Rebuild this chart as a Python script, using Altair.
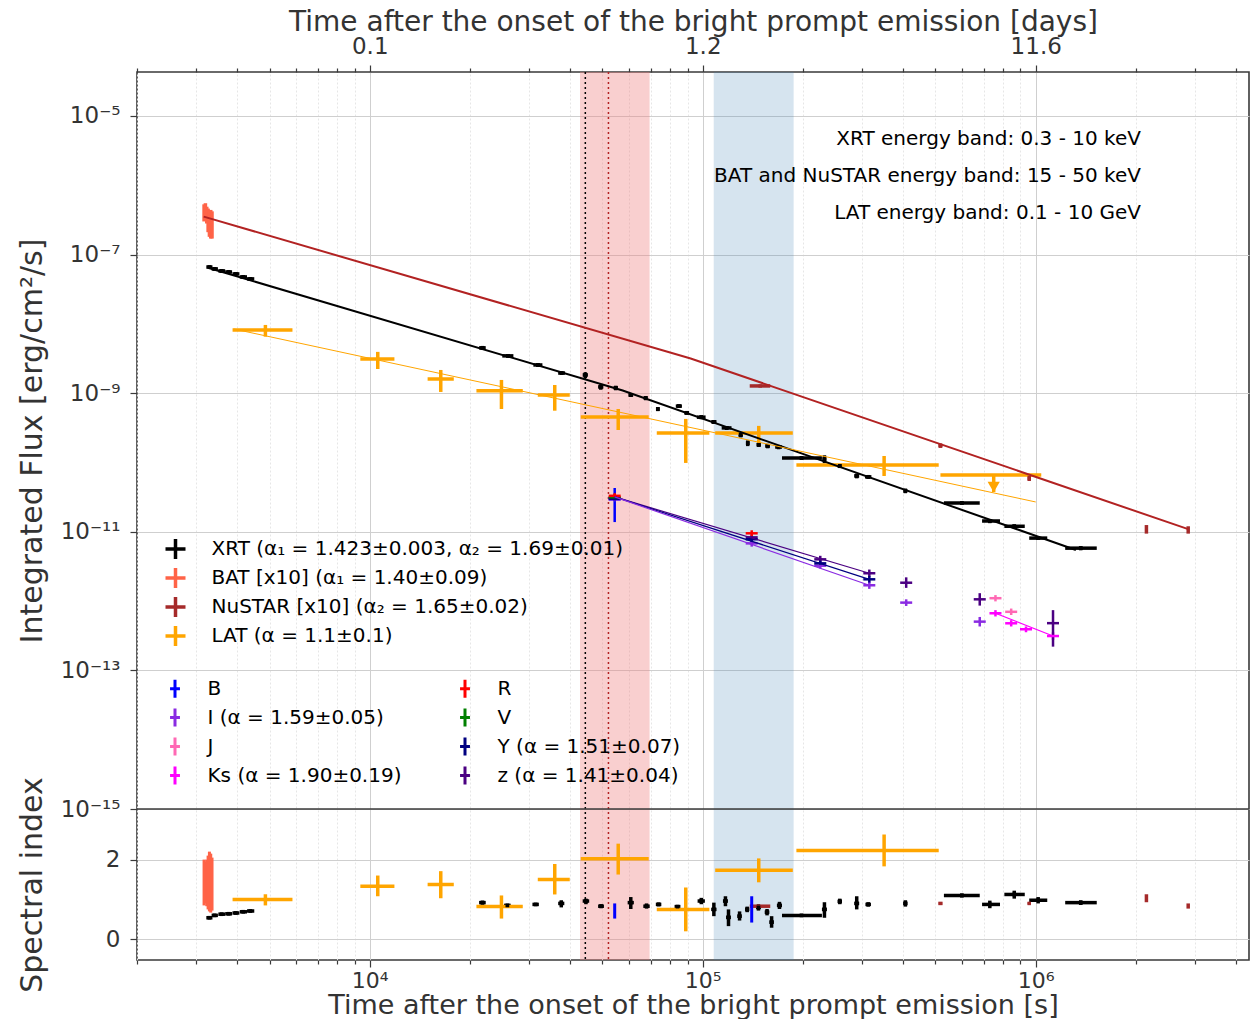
import altair as alt
import pandas as pd

# ---------------- XRT flux (0.3-10 keV) ----------------
xrt_t   = [3300, 3420, 3590, 3770, 3960, 4170, 4380, 21800, 26000, 32000, 37700, 44400, 49400, 54800, 60800, 67400, 73300,
           84800, 89500, 99000, 108000, 118000, 130000, 136500, 147300, 156700, 169000,
           198000, 232000, 258000, 290000, 314000, 406000, 600000, 728000, 862000, 1017000, 1365000]
xrt_tlo = [3230, 3350, 3510, 3680, 3870, 4070, 4280, 21300, 25000, 31000, 36800, 43600, 48500, 54000, 59800, 66500, 72500,
           83000, 88000, 96000, 106000, 114000, 128000, 135000, 145000, 154000, 165000,
           173000, 229000, 254000, 285000, 307000, 401000, 530000, 690000, 805000, 956000, 1226000]
xrt_thi = [3370, 3500, 3680, 3860, 4060, 4280, 4500, 22300, 27000, 33000, 38600, 45200, 50300, 55600, 61800, 68300, 74100,
           86600, 91000, 102000, 110000, 122000, 132000, 138000, 149500, 159000, 173000,
           228000, 235000, 262000, 295000, 321000, 411000, 679000, 781000, 927000, 1083000, 1525000]
xrt_F   = [6.6e-8, 6.2e-8, 5.8e-8, 5.6e-8, 5.25e-8, 4.75e-8, 4.45e-8, 4.5e-9, 3.45e-9, 2.55e-9, 1.95e-9, 1.83e-9, 1.23e-9, 1.19e-9, 9.4e-10, 8.5e-10, 5.9e-10,
           6.5e-10, 5.2e-10, 4.5e-10, 3.85e-10, 3.15e-10, 2.5e-10, 1.9e-10, 1.8e-10, 1.73e-10, 1.67e-10,
           1.16e-10, 1.12e-10, 8.9e-11, 6.4e-11, 6.2e-11, 3.9e-11, 2.6e-11, 1.43e-11, 1.2e-11, 8.1e-12, 5.8e-12]
xrt_Flo = [6.3e-8, 5.9e-8, 5.5e-8, 5.3e-8, 5.0e-8, 4.5e-8, 4.2e-8, 4.2e-9, 3.25e-9, 2.4e-9, 1.85e-9, 1.65e-9, 1.12e-9, 1.1e-9, 8.8e-10, 7.9e-10, 5.5e-10,
           6.1e-10, 4.9e-10, 4.2e-10, 3.6e-10, 2.95e-10, 2.3e-10, 1.72e-10, 1.68e-10, 1.6e-10, 1.55e-10,
           1.09e-10, 0.98e-10, 8.3e-11, 5.9e-11, 5.8e-11, 3.6e-11, 2.45e-11, 1.33e-11, 1.12e-11, 7.6e-12, 5.4e-12]
xrt_Fhi = [6.9e-8, 6.5e-8, 6.1e-8, 5.9e-8, 5.5e-8, 5.0e-8, 4.7e-8, 4.8e-9, 3.65e-9, 2.7e-9, 2.05e-9, 2.0e-9, 1.34e-9, 1.28e-9, 1.0e-9, 9.1e-10, 6.3e-10,
           6.9e-10, 5.5e-10, 4.8e-10, 4.1e-10, 3.35e-10, 2.7e-10, 2.08e-10, 1.92e-10, 1.86e-10, 1.79e-10,
           1.23e-10, 1.27e-10, 9.5e-11, 6.9e-11, 6.6e-11, 4.2e-11, 2.75e-11, 1.53e-11, 1.28e-11, 8.6e-12, 6.2e-12]

# ---------------- XRT spectral index ----------------
xi_t   = [3300, 3420, 3590, 3770, 3960, 4170, 4380, 21800, 25900, 31500, 37600, 44600, 49500, 60800, 67800, 73700, 84000,
          99000, 108000, 117000, 119500, 129000, 136000, 147000, 156000, 161000, 170000,
          198000, 232000, 258000, 290000, 314000, 406000, 600000, 728000, 862000, 1017000, 1365000]
xi_tlo = [3230, 3350, 3510, 3680, 3870, 4070, 4280, 21300, 25300, 30800, 36800, 43600, 48500, 59500, 66300, 72300, 82300,
          96500, 106000, 115000, 117500, 127000, 134000, 144500, 153500, 158500, 167000,
          173000, 228000, 254000, 285000, 308000, 400000, 530000, 690000, 805000, 956000, 1226000]
xi_thi = [3370, 3500, 3680, 3860, 4060, 4280, 4500, 22300, 26500, 32200, 38400, 45600, 50500, 62100, 69300, 75100, 85700,
          101500, 110000, 119000, 121500, 131000, 138000, 149500, 158500, 163500, 173000,
          228000, 236000, 262000, 295000, 320000, 412000, 679000, 781000, 927000, 1083000, 1525000]
xi_v   = [0.54, 0.60, 0.63, 0.64, 0.66, 0.69, 0.71, 0.92, 0.85, 0.875, 0.90, 0.96, 0.83, 0.92, 0.83, 0.875, 0.82,
          0.96, 0.75, 0.96, 0.55, 0.58, 0.75, 0.80, 0.68, 0.43, 0.85,
          0.60, 0.75, 0.95, 0.90, 0.875, 0.90, 1.10, 0.875, 1.125, 0.98, 0.92]
xi_lo  = [0.51, 0.57, 0.60, 0.61, 0.63, 0.66, 0.68, 0.87, 0.81, 0.84, 0.80, 0.88, 0.78, 0.76, 0.77, 0.83, 0.78,
          0.88, 0.58, 0.83, 0.33, 0.47, 0.68, 0.72, 0.60, 0.29, 0.76,
          0.57, 0.54, 0.88, 0.75, 0.82, 0.82, 1.05, 0.78, 1.02, 0.90, 0.86]
xi_hi  = [0.57, 0.63, 0.66, 0.67, 0.69, 0.72, 0.74, 0.97, 0.89, 0.91, 0.98, 1.02, 0.88, 1.06, 0.90, 0.92, 0.86,
          1.04, 0.92, 1.08, 0.75, 0.70, 0.82, 0.88, 0.76, 0.58, 0.94,
          0.63, 0.93, 1.02, 1.08, 0.93, 0.98, 1.15, 0.97, 1.22, 1.06, 0.98]

# ---------------- BAT (x10) ----------------
bat_t   = [3180, 3210, 3240, 3270, 3300, 3330, 3360]
bat_F   = [4.0e-7, 4.3e-7, 3.8e-7, 3.4e-7, 3.0e-7, 3.1e-7, 2.9e-7]
bat_Flo = [3.0e-7, 3.3e-7, 2.8e-7, 2.1e-7, 1.8e-7, 1.7e-7, 1.7e-7]
bat_Fhi = [5.3e-7, 5.5e-7, 4.9e-7, 4.6e-7, 4.3e-7, 4.4e-7, 4.2e-7]
bat_i   = [1.45, 1.35, 1.55, 1.40, 1.60, 1.35, 1.45]
bat_ilo = [0.85, 0.90, 0.83, 0.75, 0.70, 0.67, 0.72]
bat_ihi = [2.00, 1.95, 2.00, 2.10, 2.20, 2.15, 2.05]

# ---------------- NuSTAR (x10) ----------------
nu_t   = [148800, 517400, 956000, 2150000, 2870000]
nu_tlo = [138400, 510000, 945000, 2140000, 2860000]
nu_thi = [159500, 525000, 967000, 2160000, 2880000]
nu_F   = [1.27e-9, 1.75e-10, 5.9e-11, 1.09e-11, 1.05e-11]
nu_Flo = [1.2e-9, 1.62e-10, 5.4e-11, 9.4e-12, 9.4e-12]
nu_Fhi = [1.34e-9, 1.88e-10, 6.4e-11, 1.25e-11, 1.2e-11]
nu_i   = [0.83, 0.90, 0.90, 1.03, 0.83]
nu_ilo = [0.80, 0.87, 0.87, 0.93, 0.77]
nu_ihi = [0.86, 0.93, 0.93, 1.13, 0.90]

# ---------------- LAT ----------------
lat_t   = [4860, 10570, 16340, 24860, 35940, 55740, 88920, 147300, 350500]
lat_tlo = [3873, 9370, 14920, 20910, 31960, 43020, 72770, 109000, 191100]
lat_thi = [5860, 11860, 17880, 28810, 39870, 68820, 104700, 186400, 511300]
lat_F   = [8.17e-9, 3.12e-9, 1.60e-9, 1.08e-9, 9.42e-10, 4.54e-10, 2.67e-10, 2.67e-10, 9.2e-11]
lat_Flo = [6.53e-9, 2.23e-9, 1.04e-9, 5.91e-10, 5.58e-10, 2.94e-10, 9.84e-11, 1.91e-10, 6.38e-11]
lat_Fhi = [9.64e-9, 3.94e-9, 2.16e-9, 1.55e-9, 1.31e-9, 5.91e-10, 4.25e-10, 3.37e-10, 1.24e-10]
lat_i   = [1.0, 1.33, 1.375, 0.82, 1.5, 2.02, 0.75, 1.73, 2.23]
lat_ilo = [0.85, 1.08, 1.03, 0.52, 1.125, 1.625, 0.2, 1.43, 1.83]
lat_ihi = [1.13, 1.6, 1.71, 1.1, 1.89, 2.4, 1.3, 2.03, 2.63]
# LAT upper limit
ul_t, ul_tlo, ul_thi, ul_F, ul_tip = 747800, 517400, 1039000, 6.6e-11, 3.75e-11

# ---------------- optical / NIR ----------------
opt_B_t,  opt_B_F,  opt_B_lo,  opt_B_hi  = [54400], [2.94e-11], [1.38e-11], [4.28e-11]
opt_R_t,  opt_R_F,  opt_R_lo,  opt_R_hi  = [54400, 140300], [3.3e-11, 9.5e-12], [3.0e-11, 8.6e-12], [3.6e-11, 1.05e-11]
opt_V_t,  opt_V_F,  opt_V_lo,  opt_V_hi  = [54400], [3.15e-11], [2.9e-11], [3.45e-11]
opt_z_t  = [54400, 140300, 225400, 316400, 408300, 679000, 1127000]
opt_z_F  = [3.05e-11, 8.3e-12, 4.0e-12, 2.52e-12, 1.84e-12, 1.06e-12, 4.8e-13]
opt_z_lo = [2.8e-11, 7.6e-12, 3.6e-12, 2.25e-12, 1.55e-12, 8.6e-13, 2.2e-13]
opt_z_hi = [3.3e-11, 9.1e-12, 4.5e-12, 2.85e-12, 2.2e-12, 1.3e-12, 7.4e-13]
opt_Y_t  = [54400, 140300, 225400, 316400]
opt_Y_F  = [3.0e-11, 7.8e-12, 3.5e-12, 2.06e-12]
opt_Y_lo = [2.8e-11, 7.1e-12, 3.2e-12, 1.85e-12]
opt_Y_hi = [3.25e-11, 8.6e-12, 3.9e-12, 2.3e-12]
opt_I_t  = [54400, 140300, 225400, 316400, 408300, 679000]
opt_I_F  = [2.95e-11, 6.8e-12, 3.24e-12, 1.69e-12, 9.5e-13, 5.05e-13]
opt_I_lo = [2.75e-11, 6.1e-12, 2.95e-12, 1.5e-12, 8.5e-13, 4.3e-13]
opt_I_hi = [3.2e-11, 7.5e-12, 3.55e-12, 1.9e-12, 1.06e-12, 5.9e-13]
opt_J_t,  opt_J_F,  opt_J_lo,  opt_J_hi  = [757000, 843900], [1.1e-12, 7.0e-13], [9.9e-13, 6.3e-13], [1.22e-12, 7.8e-13]
opt_Ks_t  = [757000, 843900, 935000, 1127000]
opt_Ks_F  = [6.67e-13, 4.78e-13, 3.92e-13, 3.13e-13]
opt_Ks_lo = [6.0e-13, 4.3e-13, 3.55e-13, 2.75e-13]
opt_Ks_hi = [7.4e-13, 5.3e-13, 4.3e-13, 3.55e-13]
b_idx_t, b_idx_v, b_idx_lo, b_idx_hi = [54400, 140300], [0.71, 0.75], [0.52, 0.42], [0.90, 1.08]

# ---------------- fitted power laws (end/break points) ----------------
fit_xrt_t, fit_xrt_F = [3285, 57500, 1320000], [6.4e-8, 1.09e-9, 5.46e-12]
fit_bn_t,  fit_bn_F  = [3172, 92000, 2870000], [3.52e-7, 3.16e-9, 1.09e-11]
fit_lat_t, fit_lat_F = [3905, 1000000], [8.43e-9, 2.69e-11]
fit_z_t,  fit_z_F  = [54400, 316400], [3.18e-11, 2.52e-12]
fit_Y_t,  fit_Y_F  = [54400, 316400], [3.18e-11, 2.06e-12]
fit_I_t,  fit_I_F  = [54400, 316400], [3.18e-11, 1.69e-12]
fit_Ks_t, fit_Ks_F = [757000, 1127000], [6.67e-13, 3.13e-13]

# ---------------- shaded intervals / vertical lines ----------------
pink_t0, pink_t1 = 42800, 69250
blue_t0, blue_t1 = 107900, 187500
vline_black_t, vline_red_t = 44400, 52100

A_LABELS = ['XRT (α₁ = 1.423±0.003, α₂ = 1.69±0.01)', 'BAT [x10] (α₁ = 1.40±0.09)',
            'NuSTAR [x10] (α₂ = 1.65±0.02)', 'LAT (α = 1.1±0.1)']
A_COLORS = ['black', '#ff6347', '#a52a2a', '#ffa500']
B_LABELS = ['B', 'I (α = 1.59±0.05)', 'J', 'Ks (α = 1.90±0.19)', 'R', 'V', 'Y (α = 1.51±0.07)', 'z (α = 1.41±0.04)']
B_COLORS = ['#0000ff', '#8a2be2', '#ff69b4', '#ff00ff', '#ff0000', '#008000', '#000080', '#4b0082']

ann_text = ['XRT energy band: 0.3 - 10 keV', 'BAT and NuSTAR energy band: 15 - 50 keV', 'LAT energy band: 0.1 - 10 GeV']
ann_t = [2.07e6, 2.07e6, 2.07e6]
ann_F = [4.66e-6, 1.36e-6, 3.98e-7]

# ================= build tables =================
def rows(lbl, t, tlo, thi, F, Flo, Fhi):
    return pd.DataFrame({'t': t, 'tlo': tlo, 'thi': thi, 'F': F, 'Flo': Flo, 'Fhi': Fhi, 'inst': lbl})

dfA = pd.concat([
    rows(A_LABELS[0], xrt_t, xrt_tlo, xrt_thi, xrt_F, xrt_Flo, xrt_Fhi),
    rows(A_LABELS[1], bat_t, bat_t, bat_t, bat_F, bat_Flo, bat_Fhi),
    rows(A_LABELS[2], nu_t, nu_tlo, nu_thi, nu_F, nu_Flo, nu_Fhi),
    rows(A_LABELS[3], lat_t, lat_tlo, lat_thi, lat_F, lat_Flo, lat_Fhi),
    rows(A_LABELS[3], [ul_t], [ul_tlo], [ul_thi], [ul_F], [ul_tip], [ul_F]),
], ignore_index=True)
df_xrt = pd.DataFrame({'t': xrt_t, 'F': xrt_F})
df_ul = pd.DataFrame({'t': [ul_t], 'F': [ul_tip]})

opt = []
for lbl, t, F, lo, hi in [
        (B_LABELS[0], opt_B_t, opt_B_F, opt_B_lo, opt_B_hi),
        (B_LABELS[1], opt_I_t, opt_I_F, opt_I_lo, opt_I_hi),
        (B_LABELS[2], opt_J_t, opt_J_F, opt_J_lo, opt_J_hi),
        (B_LABELS[3], opt_Ks_t, opt_Ks_F, opt_Ks_lo, opt_Ks_hi),
        (B_LABELS[7], opt_z_t, opt_z_F, opt_z_lo, opt_z_hi),
        (B_LABELS[6], opt_Y_t, opt_Y_F, opt_Y_lo, opt_Y_hi),
        (B_LABELS[5], opt_V_t, opt_V_F, opt_V_lo, opt_V_hi),
        (B_LABELS[4], opt_R_t, opt_R_F, opt_R_lo, opt_R_hi)]:
    opt.append(pd.DataFrame({'t': t, 'F': F, 'Flo': lo, 'Fhi': hi, 'band': lbl}))
dfB = pd.concat(opt, ignore_index=True)

FITS = [(fit_xrt_t, fit_xrt_F, 'black', 2.0),
        (fit_bn_t, fit_bn_F, '#b22222', 2.0),
        (fit_lat_t, fit_lat_F, '#ffa500', 1.0),
        (fit_z_t, fit_z_F, '#4b0082', 1.2),
        (fit_Y_t, fit_Y_F, '#000080', 1.2),
        (fit_I_t, fit_I_F, '#8a2be2', 1.2),
        (fit_Ks_t, fit_Ks_F, '#ff00ff', 1.2)]

IDX = [  # t, tlo, thi, value, lo, hi, colour, stroke width
    (bat_t, bat_t, bat_t, bat_i, bat_ilo, bat_ihi, '#ff6347', 3.0),
    (xi_t, xi_tlo, xi_thi, xi_v, xi_lo, xi_hi, 'black', 3.5),
    (nu_t, nu_tlo, nu_thi, nu_i, nu_ilo, nu_ihi, '#a52a2a', 3.5),
    (b_idx_t, b_idx_t, b_idx_t, b_idx_v, b_idx_lo, b_idx_hi, '#0000ff', 3.0),
    (lat_t, lat_tlo, lat_thi, lat_i, lat_ilo, lat_ihi, '#ffa500', 3.5),
]
df_xi = pd.DataFrame({'t': xi_t, 'v': xi_v})

df_pink = pd.DataFrame({'t0': [pink_t0], 't1': [pink_t1]})
df_blue = pd.DataFrame({'t0': [blue_t0], 't1': [blue_t1]})
df_vk = pd.DataFrame({'t': [vline_black_t]})
df_vr = pd.DataFrame({'t': [vline_red_t]})
dfAnn = pd.DataFrame({'t': ann_t, 'F': ann_F, 'txt': ann_text})

# ================= scales & axes =================
W, H_UP, H_LO = 1112, 737, 151
H = H_UP + H_LO
XMAX = 4.37e6
xs = alt.Scale(type='log', domain=[2000, XMAX], nice=False)
ys = alt.Scale(type='log', domain=[1e-15, 4.3e-5], nice=False, range=[H_UP, 0])
yl = alt.Scale(domain=[-0.52, 3.27], nice=False, zero=False, range=[H, H_UP])

x_ticks = [m * 10 ** e for e in range(3, 7) for m in range(1, 10) if 2000 <= m * 10 ** e <= XMAX]
DEC = "(datum.value == 10000 || datum.value == 100000 || datum.value == 1000000)"
tick_sz = {"condition": {"test": DEC, "value": 7}, "value": 4}
grid_col = {"condition": {"test": DEC, "value": "#cfcfcf"}, "value": "#e6e6e6"}
grid_dash = {"condition": {"test": DEC, "value": []}, "value": [2, 2]}

ax_bottom = alt.Axis(orient='bottom', values=x_ticks, grid=True, gridColor=grid_col, gridDash=grid_dash,
                     labelExpr="datum.value == 10000 ? '10⁴' : datum.value == 100000 ? '10⁵' : datum.value == 1000000 ? '10⁶' : ''",
                     tickSize=tick_sz, labelPadding=3, labelFontSize=22, titlePadding=1, titleFontSize=27,
                     labelOverlap=False, labelFlush=False,
                     title='Time after the onset of the bright prompt emission [s]')
ax_top = alt.Axis(orient='top', values=x_ticks, grid=False,
                  labelExpr=DEC + " ? format(datum.value/86400, '.1f') : ''",
                  tickSize=tick_sz, labelPadding=7, titlePadding=-1, labelOverlap=False, labelFlush=False,
                  title='Time after the onset of the bright prompt emission [days]')
YLAB = ("datum.value < 3e-15 ? '10⁻¹⁵' : datum.value < 3e-13 ? '10⁻¹³' : datum.value < 3e-11 ? '10⁻¹¹' : "
        "datum.value < 3e-9 ? '10⁻⁹' : datum.value < 3e-7 ? '10⁻⁷' : '10⁻⁵'")
ax_y_up = alt.Axis(orient='left', offset=0, values=[1e-15, 1e-13, 1e-11, 1e-9, 1e-7, 1e-5], labelExpr=YLAB,
                   tickSize=7, grid=True, gridColor='#cfcfcf', labelPadding=10, labelOverlap=False,
                   labelFlush=False, title='Integrated Flux [erg/cm²/s]', titleX=-90, titleFontSize=30)
ax_y_lo = alt.Axis(orient='left', offset=0, values=[0, 2], format='d', tickSize=7, grid=True,
                   gridColor='#cfcfcf', labelPadding=10, labelFlush=False, title='Spectral index',
                   titleX=-90, titleFontSize=30)

legA = alt.Legend(title=None, orient='none', legendX=26.5, legendY=465, symbolType='M-1,0H1M0,-1V1',
                  symbolSize=400, symbolStrokeWidth=3.5, labelFontSize=20, labelFont='DejaVu Sans',
                  labelColor='black', labelLimit=900, labelOffset=24, rowPadding=-5, padding=0)
legB = alt.Legend(title=None, orient='none', legendX=27.5, legendY=606, columns=2, columnPadding=52,
                  symbolType='M-0.55,0H0.55M0,-1V1', symbolSize=324, symbolStrokeWidth=3,
                  labelFontSize=20, labelFont='DejaVu Sans', labelColor='black', labelLimit=900,
                  labelOffset=22, rowPadding=-2, padding=0)
colA = alt.Color('inst:N', scale=alt.Scale(domain=A_LABELS, range=A_COLORS), legend=legA)
strB = alt.Stroke('band:N', scale=alt.Scale(domain=B_LABELS, range=B_COLORS), legend=legB)

XN = lambda f: alt.X(f, scale=xs, axis=None)
YN = lambda f: alt.Y(f, scale=ys, axis=None)
YL = lambda f: alt.Y(f, scale=yl, axis=None)

layers = [
    alt.Chart(df_pink).mark_rect(color='#f08080', opacity=0.38).encode(
        x=alt.X('t0:Q', scale=xs, axis=ax_bottom), x2='t1:Q'),
    alt.Chart(df_blue).mark_rect(color='#4682b4', opacity=0.22).encode(x=XN('t0:Q'), x2='t1:Q'),
    alt.Chart(df_vk).mark_rule(color='black', strokeDash=[2, 3], strokeWidth=1.5).encode(
        x=alt.X('t:Q', scale=xs, axis=ax_top)),
    alt.Chart(df_vr).mark_rule(color='#b22222', strokeDash=[2, 3], strokeWidth=1.5).encode(x=XN('t:Q')),
    # panel separator
    alt.Chart(df_vk).mark_rule(color='#3a3a3a', strokeWidth=1.6).encode(
        x=alt.value(0), x2=alt.value(W), y=alt.value(H_UP)),
    # ---- upper panel: X-ray / gamma-ray
    alt.Chart(dfA).mark_rule(strokeWidth=3.5).encode(
        x=XN('tlo:Q'), x2='thi:Q', y=alt.Y('F:Q', scale=ys, axis=ax_y_up), color=colA),
    alt.Chart(dfA).mark_rule(strokeWidth=3.5).encode(
        x=XN('t:Q'), y=YN('Flo:Q'), y2='Fhi:Q', color=colA),
    alt.Chart(df_xrt).mark_square(size=14, color='black', opacity=1).encode(x=XN('t:Q'), y=YN('F:Q')),
    # ---- upper panel: optical / NIR
    alt.Chart(dfB).mark_rule(strokeWidth=2.5).encode(x=XN('t:Q'), y=YN('Flo:Q'), y2='Fhi:Q', stroke=strB),
    alt.Chart(dfB).mark_point(shape='M-1,0L1,0', filled=False, size=144, strokeWidth=2.5, opacity=1).encode(
        x=XN('t:Q'), y=YN('F:Q'), stroke=strB),
]
for t, F, col, w in FITS:
    layers.append(alt.Chart(pd.DataFrame({'t': t, 'F': F})).mark_line(color=col, strokeWidth=w).encode(
        x=XN('t:Q'), y=YN('F:Q')))
layers.append(alt.Chart(df_ul).mark_point(shape='triangle-down', filled=True, size=150, color='#ffa500',
                                          opacity=1, yOffset=-5).encode(x=XN('t:Q'), y=YN('F:Q')))
layers.append(alt.Chart(dfAnn).mark_text(align='right', baseline='middle', fontSize=20, font='DejaVu Sans',
                                         color='black').encode(x=XN('t:Q'), y=YN('F:Q'), text='txt:N'))
# ---- lower panel: spectral indices
first = True
for t, tlo, thi, v, lo, hi, col, w in IDX:
    d = pd.DataFrame({'t': t, 'tlo': tlo, 'thi': thi, 'v': v, 'lo': lo, 'hi': hi})
    yax = alt.Y('v:Q', scale=yl, axis=ax_y_lo) if first else YL('v:Q')
    first = False
    layers.append(alt.Chart(d).mark_rule(color=col, strokeWidth=w).encode(x=XN('tlo:Q'), x2='thi:Q', y=yax))
    layers.append(alt.Chart(d).mark_rule(color=col, strokeWidth=w).encode(x=XN('t:Q'), y=YL('lo:Q'), y2='hi:Q'))
layers.append(alt.Chart(df_xi).mark_square(size=14, color='black', opacity=1).encode(x=XN('t:Q'), y=YL('v:Q')))

chart = alt.layer(*layers).resolve_scale(y='independent').resolve_axis(x='independent', y='independent').properties(
    width=W, height=H, autosize=alt.AutoSizeParams(type='none'),
    padding={'left': 129, 'top': 64, 'right': 1, 'bottom': 59}
).configure_view(stroke='#3a3a3a', strokeWidth=1.6).configure_axis(
    domain=False, tickColor='#3a3a3a', tickWidth=1.2,
    labelFont='DejaVu Sans', labelFontSize=23, labelColor='#333333',
    titleFont='DejaVu Sans', titleFontSize=28, titleFontWeight='normal', titleColor='#333333')

chart.save("out.html", embed_options={"renderer": "svg", "actions": False})
